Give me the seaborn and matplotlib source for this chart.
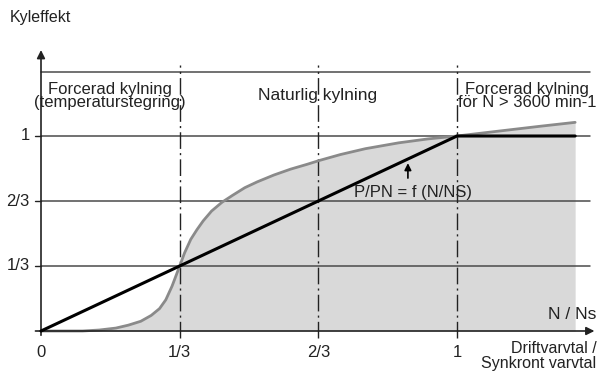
import numpy as np
import pandas as pd
import seaborn as sns
import matplotlib.pyplot as plt

# cooling curve (grey) and load line (black)
kyl_x = [0, 0.10, 0.14, 0.18, 0.21, 0.24, 0.265, 0.285, 0.30, 0.315, 1/3, 0.345, 0.36, 0.375,
         0.39, 0.41, 0.435, 0.46, 0.49, 0.52, 0.56, 0.60, 0.64, 0.67, 0.72, 0.78, 0.86,
         0.93, 1.0, 1.10, 1.20, 1.284]
kyl_y = [0, 0.0, 0.005, 0.015, 0.03, 0.05, 0.08, 0.115, 0.16, 0.23, 0.333, 0.40, 0.47, 0.52,
         0.565, 0.615, 0.66, 0.695, 0.735, 0.765, 0.80, 0.83, 0.855, 0.875, 0.905, 0.935, 0.965,
         0.985, 1.0, 1.025, 1.05, 1.07]
last_x = [0, 1, 1.284]
last_y = [0, 1, 1]

tick_pos = [0, 1/3, 2/3, 1]
xtick_labels = ['0', '1/3', '2/3', '1']
ytick_labels = ['', '1/3', '2/3', '1']

sns.set_style('white')
plt.rcParams['font.family'] = ['Liberation Sans', 'DejaVu Sans']
plt.rcParams['lines.scale_dashes'] = False

fig = plt.figure(figsize=(6, 3.72), dpi=100)
ax = fig.add_axes([0, 0, 1, 1])
ax.set_xlim(-41/416, 559/416)
ax.set_ylim(-41/195, 331/195)
ax.axis('off')

kyl = pd.DataFrame({'x': kyl_x, 'y': kyl_y})
last = pd.DataFrame({'x': last_x, 'y': last_y})

ax.fill_between(kyl['x'], 0, kyl['y'], color='#d9d9d9', lw=0, zorder=1)

# grid lines
for y in tick_pos[1:]:
    ax.plot([0, 1.32], [y, y], color='#4a4a4a', lw=1.1, zorder=2)
    ax.plot([-0.015, 0], [y, y], color='#222222', lw=1, zorder=2)
ax.plot([0, 1.32], [1.328, 1.328], color='#4a4a4a', lw=1.1, zorder=2)
for x in tick_pos[1:]:
    ax.plot([x, x], [-0.036, 1.364], color='#222222', lw=1,
            dashes=(12, 3, 1.5, 3), zorder=2)

sns.lineplot(data=kyl, x='x', y='y', color='#8a8a8a', lw=2, ax=ax, zorder=3)
sns.lineplot(data=last, x='x', y='y', color='black', lw=2.2, ax=ax, zorder=4)

# axes with arrows
ax.annotate('', xy=(1.337, 0), xytext=(-0.02, 0),
            arrowprops=dict(arrowstyle='-|>', color='#222222', lw=1.2, mutation_scale=12))
ax.annotate('', xy=(0, 1.455), xytext=(0, -0.036),
            arrowprops=dict(arrowstyle='-|>', color='#222222', lw=1.2, mutation_scale=12))

for x, lab in zip(tick_pos, xtick_labels):
    ax.text(x, -0.11, lab, ha='center', va='center', fontsize=12, color='#222222')
for y, lab in zip(tick_pos, ytick_labels):
    ax.text(-0.027, y, lab, ha='right', va='center', fontsize=12, color='#222222')

ax.text(-0.075, 1.61, 'Kyleffekt', ha='left', va='center', fontsize=11.5, color='#222222')
ax.text(0.165, 1.205, 'Forcerad kylning\n(temperaturstegring)', ha='center', va='center',
        fontsize=12, linespacing=0.85, color='#222222')
ax.text(0.666, 1.21, 'Naturlig kylning', ha='center', va='center', fontsize=12.5, color='#222222')
ax.text(1.168, 1.205, 'Forcerad kylning\nför N > 3600 min-1', ha='center', va='center',
        fontsize=12, linespacing=0.85, color='#222222')
ax.text(1.335, 0.085, 'N / Ns', ha='right', va='center', fontsize=12.5, color='#222222')
ax.text(1.335, -0.128, 'Driftvarvtal /\nSynkront varvtal', ha='right', va='center',
        fontsize=11.5, linespacing=0.95, color='#222222')
ax.text(0.895, 0.71, 'P/PN = f (N/NS)', ha='center', va='center', fontsize=12, color='#222222')
ax.annotate('', xy=(0.882, 0.875), xytext=(0.882, 0.77),
            arrowprops=dict(arrowstyle='-|>', color='black', lw=1.2, mutation_scale=10))

fig.savefig('out.png', dpi=100)
